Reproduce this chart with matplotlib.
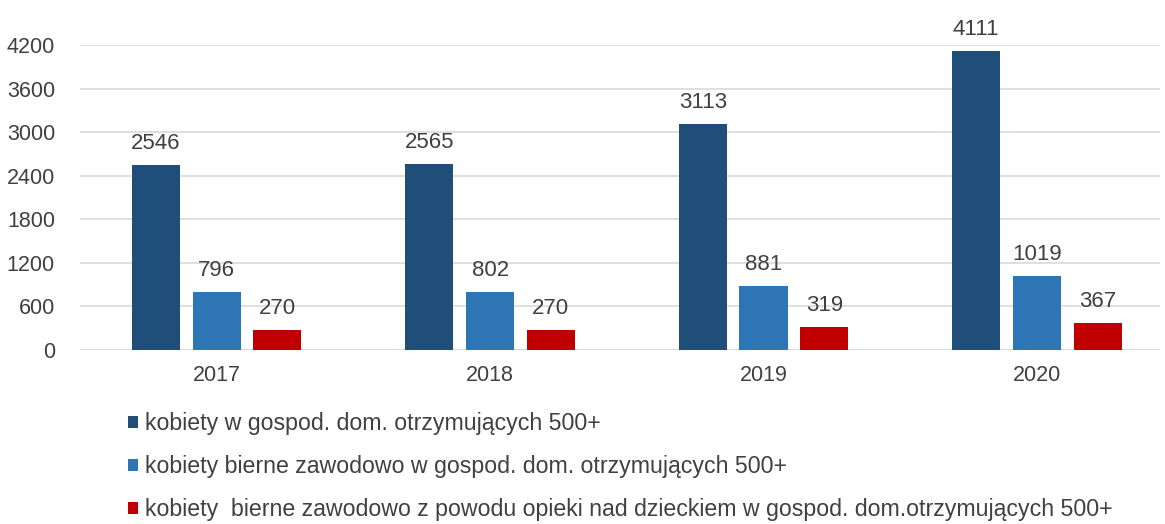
import numpy as np
import matplotlib.pyplot as plt

plt.rcParams['font.family'] = ['Liberation Sans', 'DejaVu Sans']

years = ['2017', '2018', '2019', '2020']
wszystkie = [2546, 2565, 3113, 4111]
bierne = [796, 802, 881, 1019]
opieka = [270, 270, 319, 367]
etykiety = ['kobiety w gospod. dom. otrzymujących 500+',
            'kobiety bierne zawodowo w gospod. dom. otrzymujących 500+',
            'kobiety  bierne zawodowo z powodu opieki nad dzieckiem w gospod. dom.otrzymujących 500+']
kolory = ['#1F4E79', '#2E75B6', '#C00000']

txt = '#404040'

fig = plt.figure(figsize=(11.65, 5.24), dpi=100)
ax = fig.add_axes([80 / 1165, 1 - 350 / 524, 1080 / 1165, 305 / 524])

x = np.arange(len(years))
szer = 0.176
krok = 0.222
bary = []
for i, (seria, kol) in enumerate(zip([wszystkie, bierne, opieka], kolory)):
    b = ax.bar(x + (i - 1) * krok, seria, szer, color=kol, zorder=3)
    bary.append(b)
    for xi, v in zip(x + (i - 1) * krok, seria):
        ax.annotate(str(v), (xi, v), xytext=(0, 8), textcoords='offset points',
                    ha='center', va='bottom', fontsize=16, color=txt,
                    annotation_clip=False)

ax.set_xlim(-0.5, 3.45)
ax.set_ylim(0, 4200)
ax.set_yticks(range(0, 4201, 600))
ax.set_xticks(x)
ax.set_xticklabels(years)
ax.tick_params(length=0, labelsize=15.5, colors=txt)
ax.tick_params(axis='x', pad=11)
ax.tick_params(axis='y', pad=18)
ax.grid(axis='y', color='#d9d9d9', linewidth=1.2, zorder=0)
for s in ax.spines.values():
    s.set_visible(False)
ax.axhline(0, color='#d9d9d9', linewidth=1.5, zorder=1)

fig.legend(bary, etykiety, loc='upper left', bbox_to_anchor=(128 / 1165, 1 - 412 / 524),
           frameon=False, fontsize=16.7, labelcolor=txt, handlelength=0.43,
           handleheight=0.43, handletextpad=0.3, labelspacing=0.86,
           borderaxespad=0, borderpad=0)

fig.savefig('out.png', dpi=100)
